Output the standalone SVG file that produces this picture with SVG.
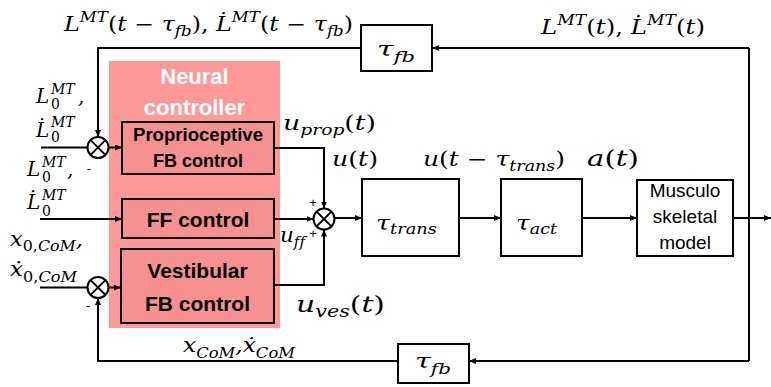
<svg xmlns="http://www.w3.org/2000/svg" width="771" height="387" viewBox="0 0 771 387">
<style>
.ln{fill:none;stroke:#000;stroke-width:2}
.bx{fill:#fff;stroke:#000;stroke-width:2}
.pb{fill:#F79090;stroke:#000;stroke-width:2}
.sj{fill:#fff;stroke:#000;stroke-width:2}
.m{font-family:"DejaVu Serif",serif;font-style:italic;font-size:20px;fill:#000;font-variant-ligatures:none}
.s{font-size:14px}
.n{font-style:normal}
.bt{font-family:"Liberation Sans",Arial,sans-serif;font-weight:bold;fill:#000;text-anchor:middle}
.wt{fill:#fff}
.rt{font-family:"Liberation Sans",Arial,sans-serif;font-size:19px;fill:#000;text-anchor:middle}
.sg{font-family:"Liberation Sans",Arial,sans-serif;font-size:13px;fill:#000;text-anchor:middle}
</style>
<defs>
<marker id="ah" viewBox="0 0 7 6" refX="7" refY="3" markerWidth="7" markerHeight="6" markerUnits="userSpaceOnUse" orient="auto"><path d="M0,0 L7,3 L0,6 z" fill="#000"/></marker>
<symbol id="sum" viewBox="-12 -12 24 24"><circle r="10.5" class="sj"/><path d="M-7.4,-7.4 L7.4,7.4 M-7.4,7.4 L7.4,-7.4" stroke="#000" stroke-width="2"/></symbol>
</defs>

<g id="neural-controller">
<rect x="109" y="61" width="171" height="267" fill="#FF9999"/>
<text class="bt wt" x="194.5" y="84" font-size="22">Neural</text>
<text class="bt wt" x="194.5" y="115" font-size="22">controller</text>
</g>

<g id="prop-fb">
<rect class="pb" x="122" y="122" width="152" height="52"/>
<text class="bt" x="198" y="141" font-size="18" textLength="130" lengthAdjust="spacingAndGlyphs">Proprioceptive</text>
<text class="bt" x="198" y="167" font-size="18">FB control</text>
</g>

<g id="ff-control">
<rect class="pb" x="122" y="199" width="152" height="39"/>
<text class="bt" x="198" y="227" font-size="21">FF control</text>
</g>

<g id="vest-fb">
<rect class="pb" x="121" y="249" width="153" height="74"/>
<text class="bt" x="197.5" y="278" font-size="21">Vestibular</text>
<text class="bt" x="197.5" y="311" font-size="21">FB control</text>
</g>

<g id="tau-trans">
<rect class="bx" x="362" y="179" width="97" height="77"/>
<text class="m" x="376" y="230" textLength="61" lengthAdjust="spacingAndGlyphs">τ<tspan class="s" dy="4">trans</tspan></text>
</g>

<g id="tau-act">
<rect class="bx" x="501" y="179" width="81" height="77"/>
<text class="m" x="516" y="230" textLength="41" lengthAdjust="spacingAndGlyphs">τ<tspan class="s" dy="4">act</tspan></text>
</g>

<g id="musculo">
<rect class="bx" x="637" y="180" width="96" height="76"/>
<text class="rt" x="685" y="197">Musculo</text>
<text class="rt" x="685" y="223">skeletal</text>
<text class="rt" x="685" y="249">model</text>
</g>

<g id="tau-fb-top">
<rect class="bx" x="361" y="25" width="71" height="46"/>
<text class="m" x="377" y="56" textLength="38" lengthAdjust="spacingAndGlyphs">τ<tspan class="s" dy="6">fb</tspan></text>
</g>

<g id="tau-fb-bottom">
<rect class="bx" x="398" y="344" width="71" height="39"/>
<text class="m" x="415" y="368" textLength="36" lengthAdjust="spacingAndGlyphs">τ<tspan class="s" dy="6">fb</tspan></text>
</g>

<g id="sum-prop"><use href="#sum" x="86" y="135.5" width="24" height="24"/></g>
<g id="sum-vest"><use href="#sum" x="86" y="275.5" width="24" height="24"/></g>
<g id="sum-main"><use href="#sum" x="312" y="207" width="24" height="24"/></g>

<g id="connectors">
<path class="ln" d="M749,48 V361"/>
<path class="ln" d="M749,48 H432" marker-end="url(#ah)"/>
<path class="ln" d="M361,48 H98 V137" marker-end="url(#ah)"/>
<path class="ln" d="M41,147.5 H87.5"/>
<path class="ln" d="M108.5,147.5 H122" marker-end="url(#ah)"/>
<path class="ln" d="M274,148 H324 V208.5" marker-end="url(#ah)"/>
<path class="ln" d="M40,219 H122" marker-end="url(#ah)"/>
<path class="ln" d="M274,219 H313.5" marker-end="url(#ah)"/>
<path class="ln" d="M40,287.5 H87.5"/>
<path class="ln" d="M108.5,287.5 H121" marker-end="url(#ah)"/>
<path class="ln" d="M274,285 H324 V229.5" marker-end="url(#ah)"/>
<path class="ln" d="M334.5,218 H362" marker-end="url(#ah)"/>
<path class="ln" d="M459,218 H501" marker-end="url(#ah)"/>
<path class="ln" d="M582,218 H637" marker-end="url(#ah)"/>
<path class="ln" d="M733,218 H771" marker-end="url(#ah)"/>
<path class="ln" d="M749,361 H469" marker-end="url(#ah)"/>
<path class="ln" d="M398,361 H98 V298" marker-end="url(#ah)"/>
</g>

<g id="labels">
<text class="m" x="64" y="31" textLength="289" lengthAdjust="spacingAndGlyphs">L<tspan class="s" dy="-9">MT</tspan><tspan class="n" dy="9">(</tspan>t − τ<tspan class="s" dy="5">fb</tspan><tspan class="n" dy="-5">),</tspan> L̇<tspan class="s" dy="-9">MT</tspan><tspan class="n" dy="9">(</tspan>t − τ<tspan class="s" dy="5">fb</tspan><tspan class="n" dy="-5">)</tspan></text>
<text class="m" x="541" y="34" textLength="164" lengthAdjust="spacingAndGlyphs">L<tspan class="s" dy="-9">MT</tspan><tspan class="n" dy="9">(</tspan>t<tspan class="n">),</tspan> L̇<tspan class="s" dy="-9">MT</tspan><tspan class="n" dy="9">(</tspan>t<tspan class="n">)</tspan></text>

<text class="m" x="36" y="103">L<tspan class="s" x="51" y="94">MT</tspan><tspan class="s n" x="51" y="109">0</tspan><tspan x="78" y="103">,</tspan></text>
<text class="m" x="36" y="137">L̇<tspan class="s" x="51" y="127">MT</tspan><tspan class="s n" x="51" y="142">0</tspan></text>
<text class="m" x="27" y="176">L<tspan class="s" x="42" y="167">MT</tspan><tspan class="s n" x="42" y="182">0</tspan><tspan x="67" y="176">,</tspan></text>
<text class="m" x="27" y="209">L̇<tspan class="s" x="42" y="200">MT</tspan><tspan class="s n" x="42" y="216">0</tspan></text>
<text class="m" x="10" y="246" textLength="73" lengthAdjust="spacingAndGlyphs">x<tspan class="s" dy="5"><tspan class="n">0,</tspan>CoM</tspan><tspan dy="-5">,</tspan></text>
<text class="m" x="10" y="276" textLength="67" lengthAdjust="spacingAndGlyphs">ẋ<tspan class="s" dy="6"><tspan class="n">0,</tspan>CoM</tspan></text>

<text class="sg" x="89" y="173">-</text>
<text class="sg" x="88" y="310">-</text>
<text class="sg" x="313" y="207">+</text>
<text class="sg" x="313" y="238">+</text>

<text class="m" x="283" y="130" textLength="93" lengthAdjust="spacingAndGlyphs">u<tspan class="s" dy="5">prop</tspan><tspan class="n" dy="-5">(</tspan>t<tspan class="n">)</tspan></text>
<text class="m" x="332" y="166" textLength="46" lengthAdjust="spacingAndGlyphs">u<tspan class="n">(</tspan>t<tspan class="n">)</tspan></text>
<text class="m" x="423" y="166" textLength="142" lengthAdjust="spacingAndGlyphs">u<tspan class="n">(</tspan>t − τ<tspan class="s" dy="5">trans</tspan><tspan class="n" dy="-5">)</tspan></text>
<text class="m" x="587" y="166" style="font-size:23px" textLength="52" lengthAdjust="spacingAndGlyphs">a<tspan class="n">(</tspan>t<tspan class="n">)</tspan></text>
<text class="m" x="280" y="242" textLength="25" lengthAdjust="spacingAndGlyphs">u<tspan class="s" dy="5">ff</tspan></text>
<text class="m" x="296" y="312" style="font-size:23px" textLength="89" lengthAdjust="spacingAndGlyphs">u<tspan style="font-size:16px" dy="5">ves</tspan><tspan class="n" dy="-5">(</tspan>t<tspan class="n">)</tspan></text>
<text class="m" x="183" y="352" textLength="112" lengthAdjust="spacingAndGlyphs">x<tspan class="s" dy="6">CoM</tspan><tspan dy="-6">,</tspan>ẋ<tspan class="s" dy="6">CoM</tspan></text>
</g>
</svg>
